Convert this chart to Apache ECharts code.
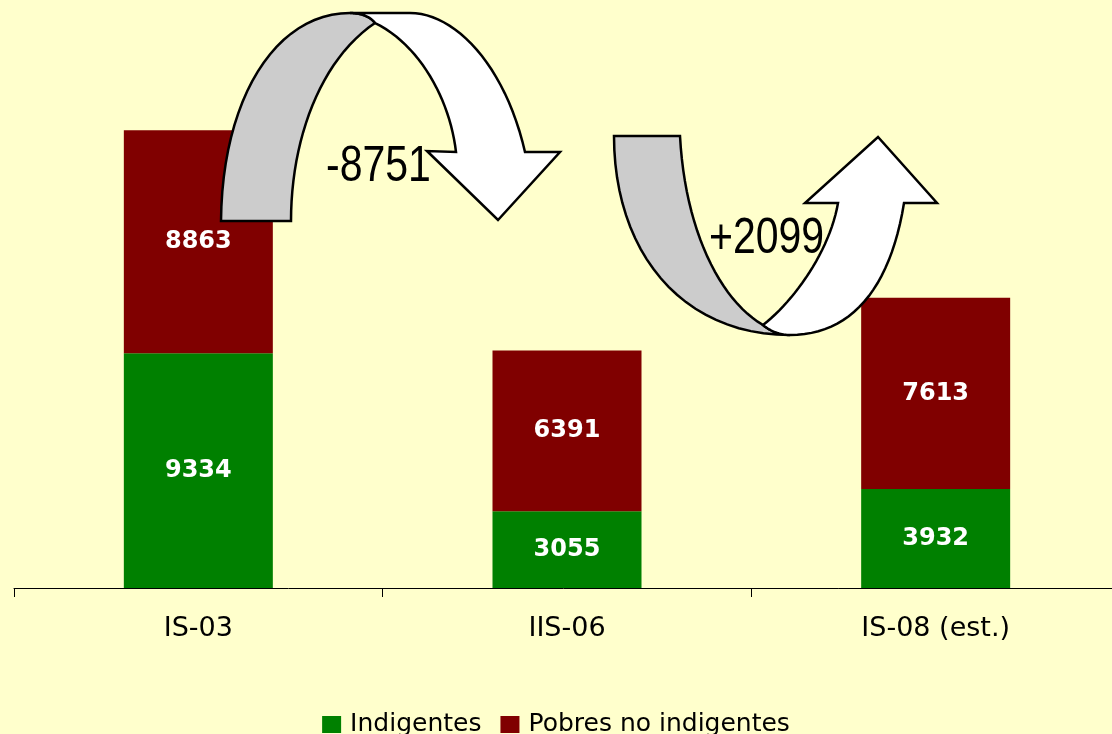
<!DOCTYPE html>
<html>
<head>
<meta charset="utf-8">
<script src="https://cdn.jsdelivr.net/npm/echarts@6/dist/echarts.min.js"></script>
<style>
  html, body { margin: 0; padding: 0; background: #ffffcc; }
  #chart { width: 1112px; height: 734px; }
</style>
</head>
<body>
<div id="chart"></div>
<script>
// data
const categories = ["IS-03", "IIS-06", "IS-08 (est.)"];
const indigentes = [9334, 3055, 3932];
const pobresNoIndigentes = [8863, 6391, 7613];
const changeLabels = ["-8751", "+2099"];

const chart = echarts.init(document.getElementById("chart"));

// curved arrows (decoration), gray back + white front
// each piece: list of segments, [x,y] = line, [c1x,c1y,c2x,c2y,x,y] = cubic
const arrowDown = {
    back: [[221, 221], [222, 100, 275, 13, 350, 13], [360, 13, 370, 16, 375, 23], [320, 60, 291, 140, 291, 221]],
    front: [[350, 13], [410, 13], [455, 13, 505, 65, 525, 152], [560, 152], [498, 220], [427, 151], [456, 152],
        [450, 100, 420, 45, 375, 23], [370, 16, 360, 13, 350, 13]]
};
const arrowUp = {
    back: [[614, 136], [680, 136], [685, 230, 720, 300, 763, 325], [770, 331, 780, 335, 790, 335], [680, 335, 614, 250, 614, 136]],
    front: [[763, 325], [795, 300, 830, 250, 838, 203], [805, 203], [878, 137], [937, 203], [904, 203],
        [890, 290, 850, 335, 790, 335], [780, 335, 770, 331, 763, 325]]
};

function toPoints(segs) {
    const pts = [];
    let last = null;
    segs.forEach(s => {
        if (s.length === 2 || !last) {
            pts.push([s[s.length - 2], s[s.length - 1]]);
        } else {
            for (let i = 1; i <= 24; i++) {
                const t = i / 24, u = 1 - t;
                pts.push([
                    u * u * u * last[0] + 3 * u * u * t * s[0] + 3 * u * t * t * s[2] + t * t * t * s[4],
                    u * u * u * last[1] + 3 * u * u * t * s[1] + 3 * u * t * t * s[3] + t * t * t * s[5]
                ]);
            }
        }
        last = pts[pts.length - 1];
    });
    return pts;
}

function arrowPiece(segs, fill) {
    return {
        type: "polygon",
        z: 10,
        shape: { points: toPoints(segs) },
        style: { fill: fill, stroke: "#000", lineWidth: 2.5, lineJoin: "miter" }
    };
}

function bigText(txt, x, y) {
    return {
        type: "text",
        z: 20,
        x: x,
        y: y,
        scaleX: 0.82,
        style: {
            text: txt,
            x: 0,
            y: 0,
            fill: "#000",
            font: '50px "Liberation Sans", Arial, sans-serif',
            align: "left",
            verticalAlign: "middle"
        }
    };
}

const barLabel = {
    show: true,
    position: "inside",
    color: "#fff",
    fontWeight: "bold",
    fontFamily: "DejaVu Sans",
    fontSize: 24
};

const option = {
    backgroundColor: "#ffffcc",
    animation: false,
    grid: {
        left: 14,
        right: -8,
        top: 85,
        bottom: 146,
        containLabel: false,
        outerBoundsMode: "none"
    },
    legend: {
        bottom: -8,
        left: "center",
        itemWidth: 19,
        itemHeight: 17,
        itemGap: 19,
        icon: "rect",
        textStyle: {
            fontFamily: "DejaVu Sans",
            fontSize: 25,
            color: "#000",
            padding: [0, 0, 0, 4]
        },
        data: ["Indigentes", "Pobres no indigentes"]
    },
    xAxis: {
        type: "category",
        data: categories,
        axisLine: { lineStyle: { color: "#000", width: 1 } },
        axisTick: { show: true, length: 9, lineStyle: { color: "#000" } },
        axisLabel: {
            margin: 27,
            color: "#000",
            fontFamily: "DejaVu Sans",
            fontSize: 27
        }
    },
    yAxis: {
        type: "value",
        min: 0,
        max: 20000,
        show: false,
        splitLine: { show: false }
    },
    series: [
        {
            name: "Indigentes",
            type: "bar",
            stack: "total",
            barWidth: 149,
            itemStyle: { color: "#008000" },
            label: barLabel,
            data: indigentes
        },
        {
            name: "Pobres no indigentes",
            type: "bar",
            stack: "total",
            barWidth: 149,
            itemStyle: { color: "#800000" },
            label: barLabel,
            data: pobresNoIndigentes
        }
    ],
    graphic: [
        arrowPiece(arrowDown.back, "#cccccc"),
        arrowPiece(arrowDown.front, "#ffffff"),
        arrowPiece(arrowUp.back, "#cccccc"),
        arrowPiece(arrowUp.front, "#ffffff"),
        bigText(changeLabels[0], 326, 167),
        bigText(changeLabels[1], 709, 239)
    ]
};

chart.setOption(option);
window.addEventListener("resize", () => chart.resize());
</script>
</body>
</html>
